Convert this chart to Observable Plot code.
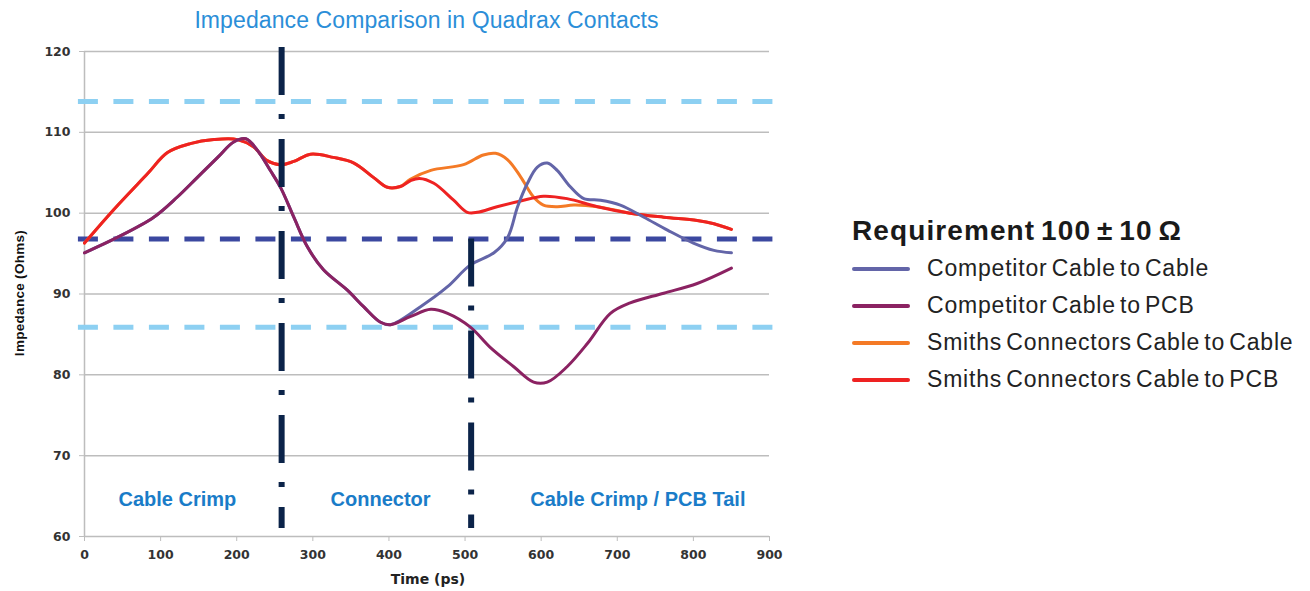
<!DOCTYPE html>
<html><head><meta charset="utf-8">
<script src="https://cdn.jsdelivr.net/npm/d3@7"></script>
<script src="https://cdn.jsdelivr.net/npm/@observablehq/plot@0.6"></script>
<style>
body{margin:0;background:#fff;}
#wrap{position:relative;width:1310px;height:591px;overflow:hidden;font-family:"Liberation Sans",Arial,sans-serif;}
#wrap svg{position:absolute;left:0;top:0;}
.title{position:absolute;left:84px;width:685px;top:7px;text-align:center;font-size:23px;letter-spacing:0.1px;color:#2b8ed8;white-space:nowrap;}
.ylab{position:absolute;left:19px;top:293px;transform:translate(-50%,-50%) rotate(-90deg);font-weight:bold;font-size:13.5px;letter-spacing:0.3px;color:#111;white-space:nowrap;}
.xlab{position:absolute;left:428px;top:571px;transform:translateX(-50%);font-family:"DejaVu Sans",sans-serif;font-weight:bold;font-size:14px;color:#222;white-space:nowrap;}
.lhead{position:absolute;left:852px;top:215px;font-weight:bold;font-size:28px;letter-spacing:1.1px;word-spacing:-3px;color:#1a1a1a;white-space:nowrap;}
.lsw{position:absolute;left:852px;width:58px;height:4px;border-radius:2px;}
.ltx{position:absolute;left:927px;font-size:23px;letter-spacing:0.8px;word-spacing:-3px;color:#222;white-space:nowrap;line-height:26px;}
</style></head>
<body><div id="wrap"></div>
<script>
// ---- data ----
const titleText = "Impedance Comparison in Quadrax Contacts";
const xLabel = "Time (ps)";
const yLabel = "Impedance (Ohms)";
const legendTitle = "Requirement 100 ± 10 Ω";
const xTicks = [0,100,200,300,400,500,600,700,800,900];
const yTicks = [60,70,80,90,100,110,120];
const gridValues = [70,80,90,100,110,120];
const limitLines = [113.8, 85.9];
const targetLine = [96.8];
const sectionBounds = [259, 508];
const sectionTops = [120.5, 96.8];
const sectionBottom = 61;
const regionNames = ["Cable Crimp","Connector","Cable Crimp / PCB Tail"];
const regionX = [122, 389, 727];
const regionY = 64.6;

const seriesNames = ["Competitor Cable to Cable","Competitor Cable to PCB","Smiths Connectors Cable to Cable","Smiths Connectors Cable to PCB"];
const seriesColors = ["#6365a8","#8b2262","#f47a26","#ee2222"];

const compCableT = [0,43,91,122,148,175,196,212,227,244,258,275,293,314,345,367,389,402,441,477,507,538,556,569,582,595,608,621,638,656,678,704,735,766,800,827,850];
const compCableV = [95.1,97.0,99.5,102,104.4,106.9,108.8,109.2,107.8,105.3,103.1,99.5,95.8,93.0,90.5,88.4,86.5,86.2,88.4,90.9,93.6,95.1,97.0,100.8,103.7,105.7,106.2,105.3,103.3,101.8,101.6,101.0,99.5,97.9,96.3,95.4,95.1];

const compPcbT = [0,43,91,122,148,175,196,212,227,244,258,275,293,314,345,367,389,402,428,455,477,507,533,564,590,608,634,661,691,717,761,805,850];
const compPcbV = [95.1,97.0,99.5,102,104.4,106.9,108.8,109.2,107.8,105.3,103.1,99.5,95.8,93.0,90.5,88.4,86.5,86.2,87.2,88.1,87.6,85.9,83.4,81.0,79.1,79.1,81.0,83.9,87.6,88.9,90.1,91.3,93.2];

const smithCableT = [0,38,83,109,139,170,201,222,240,258,275,297,327,354,380,398,415,428,455,498,524,540,556,573,590,603,621,643,674,717,761,805,827,850];
const smithCableV = [96.3,100.4,104.9,107.5,108.6,109.1,109.1,108.2,106.5,106.0,106.4,107.3,106.9,106.2,104.4,103.2,103.3,104.2,105.3,106.0,107.2,107.4,106.6,104.5,102.0,101.0,100.8,101.0,100.8,100.0,99.5,99.1,98.7,98.0];

const smithPcbT = [0,38,83,109,139,170,201,222,240,258,275,297,327,354,380,398,415,428,440,459,485,503,516,542,573,603,634,674,717,761,805,827,850];
const smithPcbV = [96.3,100.4,104.9,107.5,108.6,109.1,109.1,108.2,106.5,106.0,106.4,107.3,106.9,106.2,104.4,103.2,103.3,104.0,104.3,103.7,101.6,100.1,100.1,100.8,101.5,102.1,101.8,100.8,100.0,99.5,99.1,98.7,98.0];

// ---- build ----
const rows = (T, V) => T.map((t, i) => ({t, v: V[i]}));
const seriesData = [rows(compCableT, compCableV), rows(compPcbT, compPcbV), rows(smithCableT, smithCableV), rows(smithPcbT, smithPcbV)];
const drawOrder = [2, 3, 0, 1];
const grey = "#bdbdbd";
const sections = sectionBounds.map((x, i) => ({x, top: sectionTops[i]}));

const chart = Plot.plot({
  width: 1310, height: 591,
  marginLeft: 84, marginRight: 1310 - 769, marginTop: 51, marginBottom: 55,
  x: {domain: [0, 900], axis: null},
  y: {domain: [60, 120], axis: null},
  style: {fontFamily: "DejaVu Sans, sans-serif", background: "white", overflow: "visible"},
  marks: [
    Plot.ruleY(gridValues, {stroke: grey, strokeWidth: 1.5}),
    Plot.ruleY([60], {stroke: grey, strokeWidth: 1.5}),
    Plot.ruleX([0], {y1: 60, y2: 120, stroke: grey, strokeWidth: 1.5}),
    Plot.axisX({ticks: xTicks, tickSize: 5, tickPadding: 9, stroke: grey, fill: "#333", fontSize: 12.5, fontWeight: "bold", tickFormat: d => d}),
    Plot.axisY({ticks: yTicks, tickSize: 5, tickPadding: 9, stroke: grey, fill: "#333", fontSize: 12.5, fontWeight: "bold", tickFormat: d => d}),
    Plot.ruleY(limitLines, {x1: -8, x2: 906, stroke: "#8dd0f2", strokeWidth: 5, strokeDasharray: "20,15.5"}),
    Plot.ruleY(targetLine, {x1: -8, x2: 906, stroke: "#3b48a0", strokeWidth: 5, strokeDasharray: "20,15.5"}),
    ...drawOrder.map(i => Plot.line(seriesData[i], {x: "t", y: "v", stroke: seriesColors[i], strokeWidth: 3, curve: "catmull-rom"})),
    Plot.ruleX(sections, {x: "x", y1: "top", y2: sectionBottom, stroke: "#0b2349", strokeWidth: 6, strokeDasharray: "48,19,5,20"}),
    Plot.text(regionNames, {x: (d, i) => regionX[i], y: regionY, text: d => d, fill: "#1a7cc8", fontSize: 20, fontWeight: "bold", fontFamily: "Liberation Sans, Arial, sans-serif", style: {letterSpacing: "0.3px"}})
  ]
});

const wrap = document.getElementById("wrap");
wrap.appendChild(chart);
const add = (cls, txt, css) => { const d = document.createElement("div"); d.className = cls; if (txt) d.textContent = txt; if (css) Object.assign(d.style, css); wrap.appendChild(d); return d; };
add("title", titleText);
add("ylab", yLabel);
add("xlab", xLabel);
add("lhead", legendTitle);
const rowY = [269, 306, 343, 380];
seriesNames.forEach((n, i) => {
  add("lsw", "", {top: (rowY[i] - 2) + "px", background: seriesColors[i]});
  add("ltx", n, {top: (rowY[i] - 14) + "px"});
});
</script></body></html>
